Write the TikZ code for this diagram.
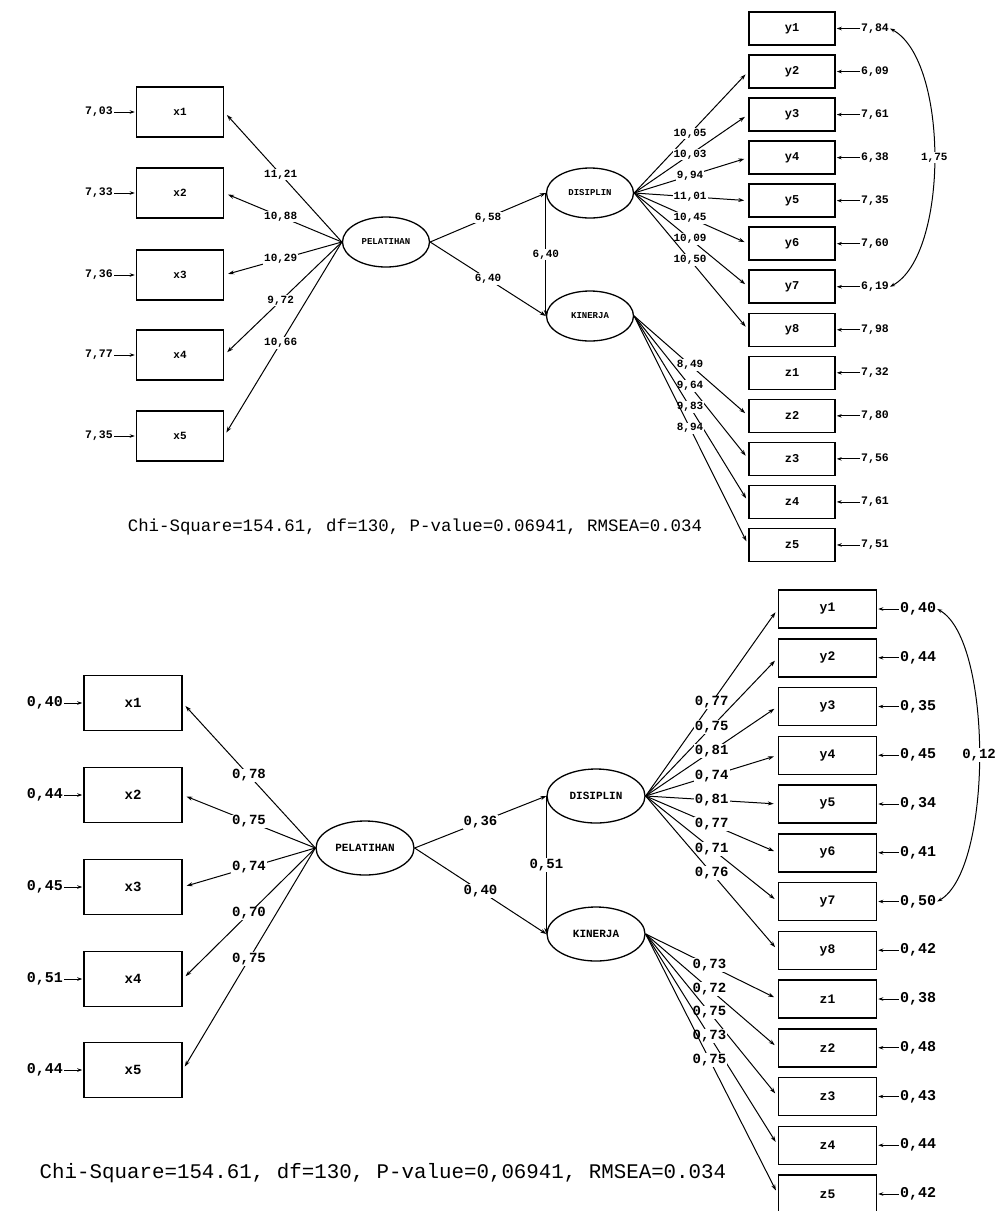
\documentclass[tikz,border=0pt]{standalone}
\usepackage{fontspec}
\setmonofont{Liberation Mono}
\usetikzlibrary{shapes.geometric,arrows.meta}
\begin{document}
\begin{tikzpicture}[x=1pt,y=-1pt,
  obsA/.style={draw,line width=1.5pt,inner sep=0pt,minimum width=87pt,minimum height=50pt,font=\ttfamily\bfseries\fontsize{11}{12}\selectfont},
  obsB/.style={draw,line width=1.5pt,inner sep=0pt,minimum width=86pt,minimum height=33pt,font=\ttfamily\bfseries\fontsize{12}{13}\selectfont},
  obsC/.style={draw,line width=1.5pt,inner sep=0pt,minimum width=98pt,minimum height=55pt,font=\ttfamily\bfseries\fontsize{14}{15}\selectfont},
  obsD/.style={draw,line width=1.5pt,inner sep=0pt,minimum width=98pt,minimum height=38pt,font=\ttfamily\bfseries\fontsize{13}{14}\selectfont},
  latA/.style={draw,ellipse,line width=1.3pt,inner sep=0pt,minimum width=87pt,minimum height=50pt,font=\ttfamily\bfseries\fontsize{9}{10}\selectfont},
  latB/.style={draw,ellipse,line width=1.3pt,inner sep=0pt,minimum width=98pt,minimum height=54pt,font=\ttfamily\bfseries\fontsize{11}{12}\selectfont},
  lblA/.style={fill=white,inner sep=1pt,font=\ttfamily\bfseries\fontsize{11}{12}\selectfont},
  lblB/.style={fill=white,inner sep=1pt,font=\ttfamily\bfseries\fontsize{14}{15}\selectfont},
  errA/.style={inner sep=1pt,font=\ttfamily\bfseries\fontsize{11.5}{12}\selectfont},
  errB/.style={inner sep=1pt,font=\ttfamily\bfseries\fontsize{15}{16}\selectfont},
  chi/.style={inner sep=0pt,font=\ttfamily\fontsize{#1}{#1}\selectfont},
  errarrow/.style={line width=0.8pt,-{Stealth[length=5pt,width=3.5pt]},shorten >=1pt},
  pathline/.style={line width=1pt,-{Stealth[length=6pt,width=4pt]},shorten >=4pt},
  corr/.style={line width=1pt,{Stealth[length=5pt,width=3.5pt]}-{Stealth[length=5pt,width=3.5pt]}}
]
\useasboundingbox (0,0) rectangle (1000,1211);
\fill[white] (0,0) rectangle (1000,1211);

% ================= TOP PANEL =================
\node[latA] (tK) at (386,242) {PELATIHAN};
\node[latA] (tD) at (590,193) {DISIPLIN};
\node[latA] (tE) at (590,316) {KINERJA};

\foreach \i/\yy/\e/\t in {1/112/{7,03}/{11,21},2/193/{7,33}/{10,88},3/275/{7,36}/{10,29},4/355/{7,77}/{9,72},5/436/{7,35}/{10,66}}{
  \node[obsA] (tx\i) at (180,\yy) {x\i};
  \node[errA] (tex\i) at (99,\yy) {\e};
  \draw[errarrow] (tex\i) -- (tx\i);
  \draw[pathline] (tK.west) -- (tx\i.east) node[lblA,pos=0.52] {\t};
}

\foreach \i/\e in {1/{7,84},2/{6,09},3/{7,61},4/{6,38},5/{7,35},6/{7,60},7/{6,19},8/{7,98}}{
  \pgfmathsetmacro\yy{28.5+43.04*(\i-1)}
  \node[obsB] (ty\i) at (792,\yy) {y\i};
  \node[errA] (tey\i) at (875,\yy) {\e};
  \draw[errarrow] (tey\i) -- (ty\i);
}
\foreach \i/\e in {1/{7,32},2/{7,80},3/{7,56},4/{7,61},5/{7,51}}{
  \pgfmathsetmacro\yy{372.8+43.04*(\i-1)}
  \node[obsB] (tz\i) at (792,\yy) {z\i};
  \node[errA] (tez\i) at (875,\yy) {\e};
  \draw[errarrow] (tez\i) -- (tz\i);
}
\foreach \i/\t in {2/{10,05},3/{10,03},4/{9,94},5/{11,01},6/{10,45},7/{10,09},8/{10,50}}{
  \draw[pathline] (tD.east) -- (ty\i.west) node[lblA,pos=0.49] {\t};
}
\foreach \i/\t in {2/{8,49},3/{9,64},4/{9,83},5/{8,94}}{
  \draw[pathline] (tE.east) -- (tz\i.west) node[lblA,pos=0.49] {\t};
}
\draw[pathline,shorten >=0pt] (tK.east) -- (tD.west) node[lblA,pos=0.5] {6,58};
\draw[pathline,shorten >=0pt] (tK.east) -- (tE.west) node[lblA,pos=0.5] {6,40};
\draw[pathline,shorten >=0pt] (tD.west) -- (tE.west) node[lblA,pos=0.5] {6,40};
\draw[corr] (tey1.east) .. controls (949,60) and (949,255) .. (tey7.east) node[lblA,pos=0.5] {1,75};

\node[chi=17.4] (chiA) at (415,527) {Chi-Square=154.61, df=130, P-value=0.06941, RMSEA=0.034};

% ================= BOTTOM PANEL =================
\node[latB] (bK) at (365,848) {PELATIHAN};
\node[latB] (bD) at (596,796) {DISIPLIN};
\node[latB] (bE) at (596,934) {KINERJA};

\foreach \i/\yy/\e/\t in {1/703/{0,40}/{0,78},2/795/{0,44}/{0,75},3/887/{0,45}/{0,74},4/979/{0,51}/{0,70},5/1070/{0,44}/{0,75}}{
  \node[obsC] (bx\i) at (133,\yy) {x\i};
  \node[errB] (bex\i) at (45,\yy) {\e};
  \draw[errarrow] (bex\i) -- (bx\i);
  \draw[pathline] (bK.west) -- (bx\i.east) node[lblB,pos=0.5] {\t};
}

\foreach \i/\e/\t in {1/{0,40}/{0,77},2/{0,44}/{0,75},3/{0,35}/{0,81},4/{0,45}/{0,74},5/{0,34}/{0,81},6/{0,41}/{0,77},7/{0,50}/{0,71},8/{0,42}/{0,76}}{
  \pgfmathsetmacro\yy{609+48.75*(\i-1)}
  \node[obsD] (by\i) at (827.5,\yy) {y\i};
  \node[errB] (bey\i) at (918,\yy) {\e};
  \draw[errarrow] (bey\i) -- (by\i);
  \draw[pathline] (bD.east) -- (by\i.west) node[lblB,pos=0.5] {\t};
}
\foreach \i/\e/\t in {1/{0,38}/{0,73},2/{0,48}/{0,72},3/{0,43}/{0,75},4/{0,44}/{0,73},5/{0,42}/{0,75}}{
  \pgfmathsetmacro\yy{999+48.75*(\i-1)}
  \node[obsD] (bz\i) at (827.5,\yy) {z\i};
  \node[errB] (bez\i) at (918,\yy) {\e};
  \draw[errarrow] (bez\i) -- (bz\i);
  \draw[pathline] (bE.east) -- (bz\i.west) node[lblB,pos=0.483] {\t};
}
\draw[pathline,shorten >=0pt] (bK.east) -- (bD.west) node[lblB,pos=0.5] {0,36};
\draw[pathline,shorten >=0pt] (bK.east) -- (bE.west) node[lblB,pos=0.5] {0,40};
\draw[pathline,shorten >=0pt] (bD.west) -- (bE.west) node[lblB,pos=0.5] {0,51};
\draw[corr] (bey1.east) .. controls (993,640) and (993,870) .. (bey7.east) node[lblB,pos=0.5] {0,12};

\node[chi=20.8] (chiB) at (383,1173) {Chi-Square=154.61, df=130, P-value=0,06941, RMSEA=0.034};
\end{tikzpicture}
\end{document}
